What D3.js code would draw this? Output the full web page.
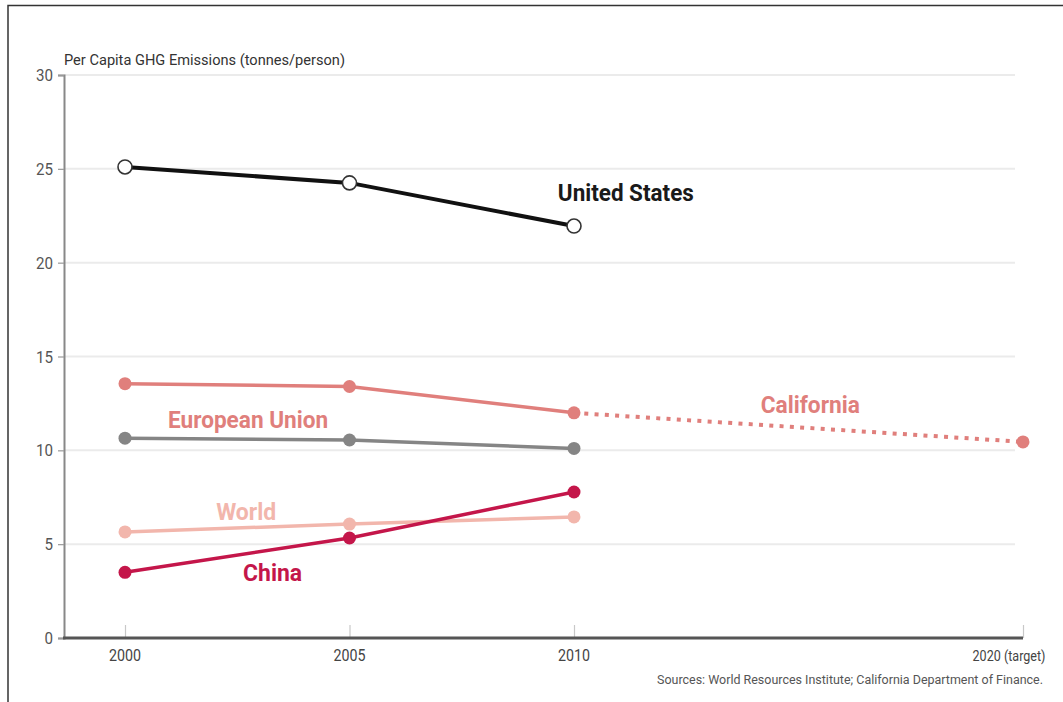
<!DOCTYPE html>
<html>
<head>
<meta charset="utf-8">
<script src="https://cdn.jsdelivr.net/npm/d3@7"></script>
<style>
  html, body { margin: 0; padding: 0; background: #fff; }
  svg text { font-family: Roboto, 'Liberation Sans', sans-serif; }
  .series-label { font-weight: bold; font-size: 24px; }
</style>
</head>
<body>
<div id="chart"></div>
<script>
// per capita GHG emissions, tonnes/person
const years = [2000, 2005, 2010];
const unitedStates = [25.1, 24.25, 21.95];
const california = [13.55, 13.4, 12.0];
const europeanUnion = [10.65, 10.55, 10.1];
const world = [5.65, 6.07, 6.45];
const china = [3.5, 5.33, 7.78];
const californiaTargetYears = [2010, 2020];
const californiaTarget = [12.0, 10.45];

const yTicks = [0, 5, 10, 15, 20, 25, 30];
const xTicks = [2000, 2005, 2010, 2020];
const xTickLabels = ['2000', '2005', '2010', '2020 (target)'];

const width = 1063, height = 702;

const svg = d3.select('#chart').append('svg')
    .attr('width', width)
    .attr('height', height);

// frame (top + left only)
svg.append('path')
    .attr('d', 'M8,702 V5.5 H1063')
    .attr('fill', 'none')
    .attr('stroke', '#333')
    .attr('stroke-width', 1.5);

const x = d3.scaleLinear().domain([2000, 2020]).range([125, 1023]);
const y = d3.scaleLinear().domain([0, 30]).range([638, 75]);
const xLeft = 64;

// squeeze text to look like the condensed face of the original
function squeeze(sel, w) {
    sel.attr('textLength', w).attr('lengthAdjust', 'spacingAndGlyphs');
}

// gridlines
svg.append('g')
    .selectAll('line')
    .data(yTicks.filter(d => d > 0))
    .enter().append('line')
    .attr('x1', xLeft).attr('x2', 1015)
    .attr('y1', d => y(d)).attr('y2', d => y(d))
    .attr('stroke', '#ebebeb')
    .attr('stroke-width', 2);

// y axis
const yAxis = svg.append('g')
    .attr('transform', `translate(${xLeft},0)`)
    .call(d3.axisLeft(y).tickValues(yTicks).tickSize(6).tickPadding(5));
yAxis.select('.domain').attr('stroke', '#888').attr('stroke-width', 2);
yAxis.selectAll('.tick line').attr('stroke', '#999').attr('stroke-width', 1.2);
yAxis.selectAll('.tick text')
    .attr('fill', '#555')
    .style('font-size', '16px')
    .attr('dy', '0.35em')
    .each(function (d) { squeeze(d3.select(this), d >= 10 ? 17 : 8.5); });

// x axis
const xAxis = svg.append('g')
    .attr('transform', `translate(0,${y(0)})`)
    .call(d3.axisTop(x).tickValues(xTicks).tickSize(13).tickFormat(() => ''));
xAxis.select('.domain').remove();
xAxis.selectAll('.tick line').attr('stroke', '#c8c8c8').attr('stroke-width', 1.2);

svg.append('line')
    .attr('x1', xLeft - 1).attr('x2', x(2020))
    .attr('y1', y(0)).attr('y2', y(0))
    .attr('stroke', '#555')
    .attr('stroke-width', 3);

svg.append('g')
    .selectAll('text')
    .data(xTicks)
    .enter().append('text')
    .attr('x', d => x(d))
    .attr('y', y(0) + 23)
    .attr('text-anchor', 'middle')
    .attr('dx', (d, i) => i === xTicks.length - 1 ? -14 : 0)
    .attr('fill', '#444')
    .style('font-size', (d, i) => i === xTicks.length - 1 ? '14px' : '16px')
    .text((d, i) => xTickLabels[i])
    .each(function (d, i) { squeeze(d3.select(this), i === xTicks.length - 1 ? 73 : 32); });

// axis title
svg.append('text')
    .attr('x', xLeft)
    .attr('y', 65)
    .attr('fill', '#333')
    .style('font-size', '14.5px')
    .text('Per Capita GHG Emissions (tonnes/person)')
    .call(squeeze, 281);

// sources
svg.append('text')
    .attr('x', 1043)
    .attr('y', 684)
    .attr('text-anchor', 'end')
    .attr('fill', '#555')
    .style('font-size', '12.5px')
    .text('Sources:  World Resources Institute; California Department of Finance.')
    .call(squeeze, 386);

const line = d3.line().x(d => x(d[0])).y(d => y(d[1]));

// California target (dotted)
const targetPts = californiaTargetYears.map((yr, i) => [yr, californiaTarget[i]]);
svg.append('path')
    .attr('d', line(targetPts))
    .attr('fill', 'none')
    .attr('stroke', '#e07f7c')
    .attr('stroke-width', 4)
    .attr('stroke-dasharray', '4 6.3');
svg.append('circle')
    .attr('cx', x(2020)).attr('cy', y(californiaTarget[1]))
    .attr('r', 6.5)
    .attr('fill', '#e07f7c');

const series = [
    { values: world, color: '#f2b6ac' },
    { values: europeanUnion, color: '#858585' },
    { values: california, color: '#e07f7c' },
    { values: china, color: '#c4164a' }
];

series.forEach(s => {
    const pts = years.map((yr, i) => [yr, s.values[i]]);
    svg.append('path')
        .attr('d', line(pts))
        .attr('fill', 'none')
        .attr('stroke', s.color)
        .attr('stroke-width', 3.5);
    svg.append('g')
        .selectAll('circle')
        .data(pts)
        .enter().append('circle')
        .attr('cx', d => x(d[0]))
        .attr('cy', d => y(d[1]))
        .attr('r', 6.5)
        .attr('fill', s.color);
});

// United States - open markers
const usPts = years.map((yr, i) => [yr, unitedStates[i]]);
svg.append('path')
    .attr('d', line(usPts))
    .attr('fill', 'none')
    .attr('stroke', '#111')
    .attr('stroke-width', 4);
svg.append('g')
    .selectAll('circle')
    .data(usPts)
    .enter().append('circle')
    .attr('cx', d => x(d[0]))
    .attr('cy', d => y(d[1]))
    .attr('r', 7)
    .attr('fill', '#fff')
    .attr('stroke', '#333')
    .attr('stroke-width', 1.6);

// series labels
const labels = [
    { text: 'United States', yr: 2009.64, v: 23.3, color: '#1a1a1a', w: 136 },
    { text: 'European Union', yr: 2000.96, v: 11.2, color: '#e07f7c', w: 160 },
    { text: 'World', yr: 2002.03, v: 6.3, color: '#f2b6ac', w: 60 },
    { text: 'China', yr: 2002.63, v: 3.05, color: '#c4164a', w: 59 },
    { text: 'California', yr: 2014.16, v: 12.0, color: '#e07f7c', w: 99 }
];
svg.append('g')
    .selectAll('text')
    .data(labels)
    .enter().append('text')
    .attr('class', 'series-label')
    .attr('x', d => x(d.yr))
    .attr('y', d => y(d.v))
    .attr('fill', d => d.color)
    .attr('textLength', d => d.w)
    .attr('lengthAdjust', 'spacingAndGlyphs')
    .text(d => d.text);
</script>
</body>
</html>
